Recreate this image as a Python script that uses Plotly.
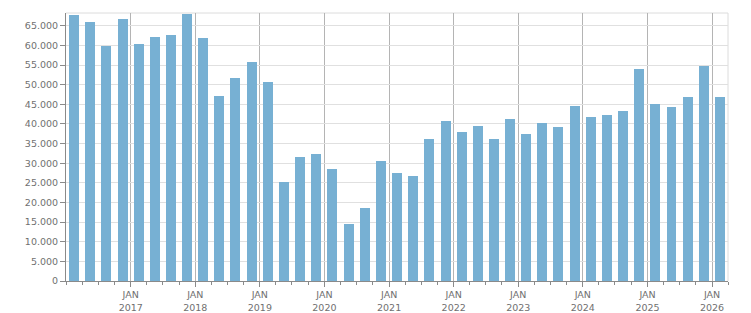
import pandas as pd
import plotly.graph_objects as go

quarters = [f"{y}Q{q}" for y in range(2016, 2026) for q in range(1, 5)] + ["2026Q1"]
values = [67700, 66000, 59800, 66700,
          60300, 62100, 62600, 68000,
          61900, 47100, 51700, 55700,
          50600, 25200, 31500, 32300,
          28500, 14500, 18500, 30500,
          27500, 26700, 36100, 40700,
          37900, 39400, 36100, 41200,
          37400, 40200, 39200, 44500,
          41700, 42200, 43300, 54000,
          45000, 44300, 46800, 54700,
          46800]
tick_dates = [f"{y}-01-01" for y in range(2017, 2027)]
tick_labels = [f"JAN<br>{y}" for y in range(2017, 2027)]
y_ticks = list(range(0, 70000, 5000))

periods = [pd.Period(q, freq="Q") for q in quarters]
mid = [p.start_time + (p.end_time - p.start_time) / 2 for p in periods]

DAY = 86400000
fig = go.Figure(go.Bar(
    x=mid, y=values,
    width=[56.5 * DAY] * len(values),
    marker=dict(color="#77b0d3", line=dict(width=0)),
    hoverinfo="x+y",
))

font = dict(family="DejaVu Sans", size=9.5, color="#707070")
fig.update_layout(
    width=751, height=313,
    margin=dict(l=66, r=23, t=13, b=32),
    paper_bgcolor="white", plot_bgcolor="white",
    separators=",.",
    showlegend=False,
    font=font,
    bargap=0,
    xaxis=dict(
        type="date",
        automargin=False,
        range=["2016-01-01", "2026-04-01"],
        tickvals=tick_dates, ticktext=tick_labels,
        showgrid=True, gridcolor="#b4b4b4", gridwidth=1,
        showline=True, linecolor="#8a8a8a", linewidth=1,
        ticks="outside", ticklen=5, tickcolor="#8a8a8a",
        tickfont=font,
        minor=dict(dtick="M3", tick0="2016-01-01", ticks="outside",
                   ticklen=3, tickcolor="#8a8a8a", showgrid=False),
        zeroline=False,
        fixedrange=True,
    ),
    yaxis=dict(
        automargin=False,
        range=[0, 68240],
        tickvals=y_ticks,
        tickformat=",d",
        showgrid=True, gridcolor="#e0e0e0", gridwidth=1,
        showline=True, linecolor="#8a8a8a", linewidth=1,
        ticks="outside", ticklen=5, tickcolor="#8a8a8a",
        tickfont=font,
        zeroline=False,
        fixedrange=True,
    ),
    shapes=[
        dict(type="line", xref="paper", yref="paper", x0=0, x1=1, y0=1, y1=1,
             line=dict(color="#dcdcdc", width=1), layer="below"),
        dict(type="line", xref="paper", yref="paper", x0=1, x1=1, y0=0, y1=1,
             line=dict(color="#dcdcdc", width=1), layer="below"),
    ],
)

fig.write_html("out.html")
